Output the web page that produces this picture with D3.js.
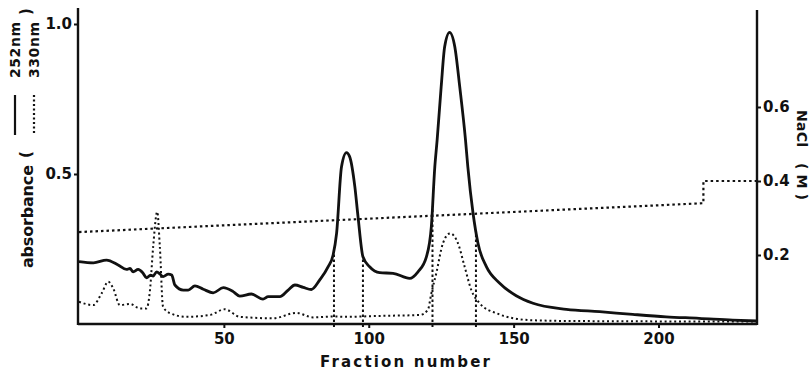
<!DOCTYPE html>
<html>
<head>
<meta charset="utf-8">
<script src="https://cdn.jsdelivr.net/npm/d3@7"></script>
<style>
  body { margin: 0; background: #fff; }
  svg text { font-family: "DejaVu Sans", sans-serif; font-weight: bold; fill: #111; }
</style>
</head>
<body>
<div id="wrapper"></div>
<script>
// absorbance at 252 nm (solid)
const fraction252 = [0, 5, 9.5, 13.5, 16.4, 17.6, 18.7, 20.4, 22, 23.3, 24.7, 25.6, 26.8, 27.9, 29, 30.8, 32, 33.1, 36, 37.7, 40, 42.9, 46.3, 49.8, 53.2, 55.5, 59.5, 63.5, 65.3, 69.3, 72.2, 74.5, 77.4, 80.2, 83.1, 86, 87.7, 88.9, 90.6, 92.3, 93.4, 95.2, 96.3, 98, 100.3, 103.8, 108.4, 114.1, 117, 119.9, 121.6, 122.8, 123.6, 125, 126.2, 127.9, 129.7, 131.4, 133.4, 134.2, 136, 137.7, 140.6, 145.2, 150.9, 156.7, 168.2, 179.7, 191.1, 202.6, 214, 225.6, 234];
const abs252 = [0.208, 0.204, 0.213, 0.197, 0.182, 0.185, 0.174, 0.182, 0.171, 0.154, 0.163, 0.16, 0.174, 0.167, 0.158, 0.166, 0.163, 0.13, 0.113, 0.113, 0.127, 0.116, 0.104, 0.121, 0.108, 0.093, 0.1, 0.083, 0.091, 0.091, 0.113, 0.13, 0.122, 0.115, 0.147, 0.191, 0.23, 0.302, 0.524, 0.571, 0.558, 0.458, 0.358, 0.224, 0.191, 0.171, 0.169, 0.152, 0.174, 0.224, 0.324, 0.524, 0.613, 0.791, 0.924, 0.972, 0.924, 0.791, 0.613, 0.524, 0.369, 0.269, 0.191, 0.136, 0.094, 0.069, 0.049, 0.041, 0.032, 0.024, 0.019, 0.013, 0.01];

// absorbance at 330 nm (dotted)
const fraction330 = [0, 4.9, 7.8, 10.1, 11.8, 14.1, 17.6, 21, 23.3, 24.5, 25.6, 27, 27.9, 29, 31.4, 37.1, 45.2, 50.3, 55.5, 67, 75, 80.8, 87.7, 92.3, 103.8, 117.6, 120.4, 121.6, 123.3, 125.6, 128.1, 130.8, 133.1, 135.4, 138.3, 144, 155.5, 170, 234];
const abs330 = [0.074, 0.063, 0.102, 0.141, 0.119, 0.063, 0.067, 0.052, 0.052, 0.113, 0.258, 0.374, 0.258, 0.058, 0.036, 0.024, 0.03, 0.049, 0.024, 0.019, 0.037, 0.022, 0.025, 0.024, 0.027, 0.03, 0.047, 0.102, 0.169, 0.269, 0.302, 0.269, 0.191, 0.113, 0.069, 0.036, 0.013, 0.01, 0.008];

// NaCl gradient (M)
const fractionNaCl = [0, 215.5, 215.5, 234];
const naclM = [0.262, 0.34, 0.4, 0.4];

// pooled fraction boundaries
const poolBounds = [88, 98, 122, 137];

const xTicks = [50, 100, 150, 200];
const leftTicks = [0.5, 1.0];
const rightTicks = [0.2, 0.4, 0.6];

var dimension = {
    width: 811,
    height: 374,
    left: 78,
    right: 757,
    bottom: 324
};

const svg = d3.select("#wrapper").append("svg")
    .attr("width", dimension.width)
    .attr("height", dimension.height);

const x = d3.scaleLinear().domain([0, 234]).range([79, 757]);
const yL = d3.scaleLinear().domain([0, 1]).range([324, 24]);
const yR = d3.scaleLinear().domain([0, 0.6]).range([329, 107]);

const ink = "#111";

const s252 = fraction252.map((f, i) => [f, abs252[i]]);
const s330 = fraction330.map((f, i) => [f, abs330[i]]);
const sNaCl = fractionNaCl.map((f, i) => [f, naclM[i]]);

const absLine = d3.line()
    .x(d => x(d[0]))
    .y(d => yL(d[1]))
    .curve(d3.curveMonotoneX);

const naclLine = d3.line()
    .x(d => x(d[0]))
    .y(d => yR(d[1]));

// NaCl gradient
svg.append("path")
    .attr("d", naclLine(sNaCl))
    .attr("fill", "none").attr("stroke", ink)
    .attr("stroke-width", 2.2).attr("stroke-dasharray", "2.5,3");

// pool boundaries, from the axis up to the 252 nm trace
const interp252 = f => {
    const i = d3.bisectLeft(fraction252, f);
    const f0 = fraction252[i - 1], f1 = fraction252[i];
    const t = (f - f0) / (f1 - f0);
    return abs252[i - 1] + t * (abs252[i] - abs252[i - 1]);
};
svg.selectAll(".pool").data(poolBounds).join("line")
    .attr("class", "pool")
    .attr("x1", d => x(d)).attr("x2", d => x(d))
    .attr("y1", yL(0) + 3).attr("y2", d => yL(interp252(d)))
    .attr("stroke", ink).attr("stroke-width", 2)
    .attr("stroke-dasharray", "2.5,2.5");

// 330 nm
svg.append("path")
    .attr("d", absLine(s330))
    .attr("fill", "none").attr("stroke", ink)
    .attr("stroke-width", 2).attr("stroke-dasharray", "2,2.8");

// 252 nm
svg.append("path")
    .attr("d", absLine(s252))
    .attr("fill", "none").attr("stroke", ink)
    .attr("stroke-width", 2.8);

// axes
const frame = svg.append("g").attr("stroke", ink).attr("stroke-width", 2.4);
frame.append("line").attr("x1", dimension.left).attr("x2", dimension.left).attr("y1", 8).attr("y2", dimension.bottom + 1);
frame.append("line").attr("x1", dimension.right).attr("x2", dimension.right).attr("y1", 10).attr("y2", dimension.bottom + 1);
frame.append("line").attr("x1", dimension.left).attr("x2", dimension.right).attr("y1", dimension.bottom).attr("y2", dimension.bottom);

const x_axis = d3.axisBottom(x).tickValues(xTicks).tickSize(4).tickPadding(5);
const yL_axis = d3.axisLeft(yL).tickValues(leftTicks).tickSize(4).tickPadding(2).tickFormat(d3.format(".1f"));
const yR_axis = d3.axisRight(yR).tickValues(rightTicks).tickSize(4).tickPadding(2).tickFormat(d3.format(".1f"));

function styleAxis(g) {
    g.select(".domain").remove();
    g.selectAll(".tick line").attr("stroke", ink).attr("stroke-width", 2);
    g.selectAll(".tick text").style("font-size", "15px").style("font-family", "DejaVu Sans").style("font-weight", "bold").attr("fill", ink);
}

svg.append("g").attr("transform", `translate(0,${dimension.bottom})`).call(x_axis).call(styleAxis);
svg.append("g").attr("transform", `translate(${dimension.left},0)`).call(yL_axis).call(styleAxis);
svg.append("g").attr("transform", `translate(${dimension.right},0)`).call(yR_axis).call(styleAxis);

// x label
svg.append("text")
    .attr("x", 320).attr("y", 367)
    .attr("textLength", 170).attr("lengthAdjust", "spacing")
    .style("font-size", "15px")
    .text("Fraction number");

// left label with legend
function vtext(xp, yp, str, size, len) {
    const t = svg.append("text")
        .attr("transform", `translate(${xp},${yp}) rotate(-90)`)
        .style("font-size", size + "px")
        .text(str);
    if (len) t.attr("textLength", len).attr("lengthAdjust", "spacing");
    return t;
}
vtext(33, 268, "absorbance", 16, 103);
vtext(31, 158, "(", 15);
vtext(20, 78, "252nm", 14, 56);
vtext(39, 78, "330nm", 14, 56);
vtext(31, 15, ")", 15);

svg.append("line")
    .attr("x1", 15).attr("x2", 15).attr("y1", 95).attr("y2", 135)
    .attr("stroke", ink).attr("stroke-width", 2.2);
svg.append("line")
    .attr("x1", 34).attr("x2", 34).attr("y1", 95).attr("y2", 135)
    .attr("stroke", ink).attr("stroke-width", 2.2).attr("stroke-dasharray", "2,2.5");

// right label
svg.append("text")
    .attr("transform", "translate(797,110) rotate(90)")
    .attr("textLength", 37).attr("lengthAdjust", "spacing")
    .style("font-size", "14px")
    .text("NaCl");
svg.append("text")
    .attr("transform", "translate(797,163) rotate(90)")
    .attr("textLength", 37).attr("lengthAdjust", "spacing")
    .style("font-size", "14px")
    .text("(M)");
</script>
</body>
</html>
